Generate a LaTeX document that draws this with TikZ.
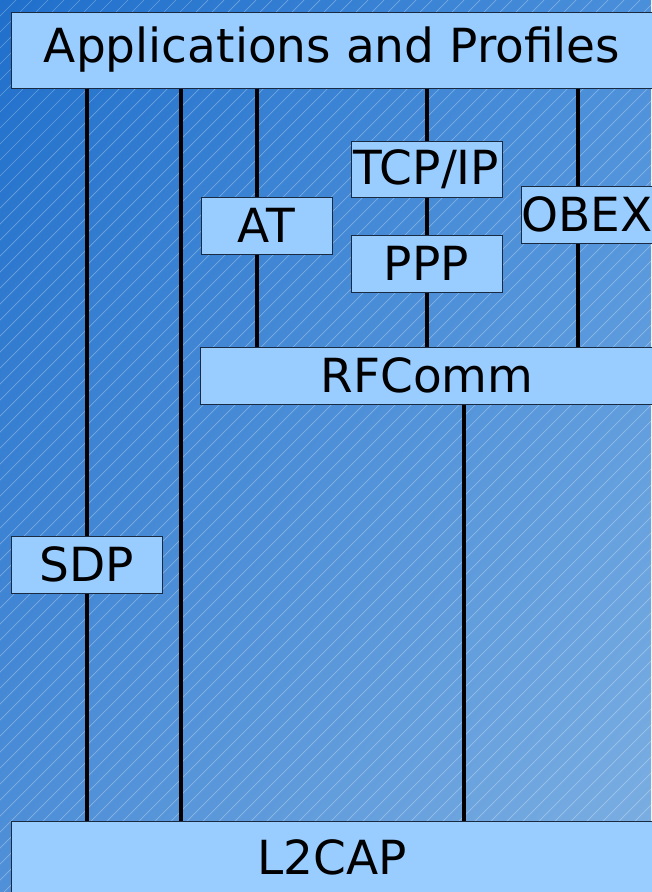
\documentclass[tikz,border=0pt]{standalone}
\usepackage{fontspec}
\setmainfont{DejaVu Sans}
\tikzset{font={\fontsize{47pt}{51pt}\selectfont}}
\usetikzlibrary{
	calc,
	shadings,
	positioning
	}
\definecolor{fond1}{HTML}{1F6FCB}
\definecolor{fond2}{HTML}{4A8FDA}
\definecolor{fond3}{HTML}{5090D8}
\definecolor{fond4}{HTML}{7EB0E2}
\definecolor{bleuclair}{HTML}{99CCFF}
\definecolor{bord}{HTML}{1A2A40}
\tikzstyle{couche}=[draw=bord,fill=bleuclair,line width=1pt,rectangle,inner sep=0pt,minimum height=57pt]
\tikzstyle{lien}=[black,line width=3.2pt]
\tikzstyle{hachure}=[white,opacity=0.3,line width=0.7pt]

\begin{document}
\begin{tikzpicture}[x=1pt,y=-1pt]
        \useasboundingbox (0,0) rectangle (651,892);
        % fond degrade et hachures
        \shade[upper left=fond1, upper right=fond2, lower left=fond3, lower right=fond4] (0,0) rectangle (651,892);
        \begin{scope}
            \clip (0,0) rectangle (651,892);
            \foreach \i in {0,16,...,1560}
                \draw[hachure] (\i-892,892) -- (\i,0);
        \end{scope}
        %
        \node[couche, minimum width=642pt, minimum height=76pt] (apps) at (332,50) {Applications and Profiles};
        \node[couche, minimum width=131pt] (at) at (266.5,225.5) {AT};
        \node[couche, minimum width=151pt, minimum height=56pt] (tcpip) at (426.5,169) {TCP/IP};
        \node[couche, minimum width=151pt] (ppp) at (426.5,263.5) {PPP};
        \node[couche, minimum width=132pt] (obex) at (587,214.5) {OBEX};
        \node[couche, minimum width=454pt] (rfcomm) at (427,375.5) {RFComm};
        \node[couche, minimum width=151pt] (sdp) at (86.5,564.5) {SDP};
        \node[couche, minimum width=642pt, minimum height=72pt] (l2cap) at (332,857) {L2CAP};

        \coordinate (x-sdp) at (87,0);
        \coordinate (x-direct) at (181,0);
        \coordinate (x-at) at (257,0);
        \coordinate (x-ip) at (427,0);
        \coordinate (x-obex) at (578,0);
        \coordinate (x-rf) at (464,0);

        % SDP
        \draw[lien] (apps.south -| x-sdp) -- (sdp.north -| x-sdp);
        \draw[lien] (sdp.south -| x-sdp) -- (l2cap.north -| x-sdp);
        % direct sur L2CAP
        \draw[lien] (apps.south -| x-direct) -- (l2cap.north -| x-direct);
        % AT
        \draw[lien] (apps.south -| x-at) -- (at.north -| x-at);
        \draw[lien] (at.south -| x-at) -- (rfcomm.north -| x-at);
        % TCP/IP sur PPP
        \draw[lien] (apps.south -| x-ip) -- (tcpip.north -| x-ip);
        \draw[lien] (tcpip.south -| x-ip) -- (ppp.north -| x-ip);
        \draw[lien] (ppp.south -| x-ip) -- (rfcomm.north -| x-ip);
        % OBEX
        \draw[lien] (apps.south -| x-obex) -- (obex.north -| x-obex);
        \draw[lien] (obex.south -| x-obex) -- (rfcomm.north -| x-obex);
        % RFComm sur L2CAP
        \draw[lien] (rfcomm.south -| x-rf) -- (l2cap.north -| x-rf);
    \end{tikzpicture}
\end{document}
